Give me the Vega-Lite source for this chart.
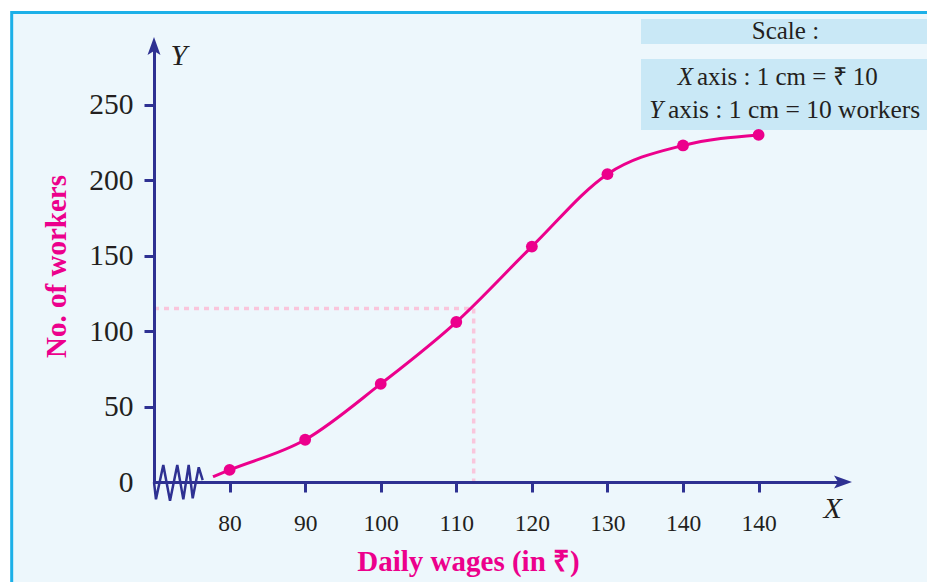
{
  "$schema": "https://vega.github.io/schema/vega-lite/v6.json",
  "width": 689,
  "height": 436,
  "autosize": {"type": "none"},
  "padding": {"left": 154, "top": 46, "right": 84, "bottom": 100},
  "background": "#ffffff",
  "config": {"view": {"stroke": null}, "text": {"font": "Liberation Serif", "color": "#231f20"}},
  "datasets": {
    "ogive": [
      {"wage": 77.8, "workers": 3.5, "plotted": false},
      {"wage": 80, "workers": 8, "plotted": true},
      {"wage": 90, "workers": 28, "plotted": true},
      {"wage": 100, "workers": 65, "plotted": true},
      {"wage": 110, "workers": 106, "plotted": true},
      {"wage": 120, "workers": 156, "plotted": true},
      {"wage": 130, "workers": 204, "plotted": true},
      {"wage": 140, "workers": 223, "plotted": true},
      {"wage": 150, "workers": 230, "plotted": true}
    ],
    "median": [{"median_wage": 112.3, "half_n": 115, "wage_start": 70, "workers_start": 0}],
    "kink": [
      {"kx": 70, "ky": 0},
      {"kx": 70.26, "ky": -11.5},
      {"kx": 71.23, "ky": 11.3},
      {"kx": 72.12, "ky": -12.4},
      {"kx": 73.08, "ky": 11.3},
      {"kx": 73.88, "ky": -11.5},
      {"kx": 74.59, "ky": 11.3},
      {"kx": 75.12, "ky": -10.8},
      {"kx": 75.92, "ky": 9.7},
      {"kx": 76.44, "ky": 1.3}
    ]
  },
  "layer": [
    {
      "data": {"values": [{}]},
      "mark": {"type": "rect", "fill": "#edf7fc", "stroke": "#1cb0e8", "strokeWidth": 3},
      "encoding": {
        "x": {"datum": 51.17, "type": "quantitative"},
        "x2": {"datum": 200},
        "y": {"datum": 311.1, "type": "quantitative"},
        "y2": {"datum": -150}
      }
    },
    {
      "data": {"values": [{}]},
      "mark": {"type": "rect", "fill": "#c9e8f6"},
      "encoding": {
        "x": {"datum": 134.44, "type": "quantitative"},
        "x2": {"datum": 175},
        "y": {"datum": 306.8, "type": "quantitative"},
        "y2": {"datum": 290.3}
      }
    },
    {
      "data": {"values": [{}]},
      "mark": {"type": "rect", "fill": "#c9e8f6"},
      "encoding": {
        "x": {"datum": 134.44, "type": "quantitative"},
        "x2": {"datum": 175},
        "y": {"datum": 280.3, "type": "quantitative"},
        "y2": {"datum": 233.3}
      }
    },
    {
      "data": {"values": [{"t": "Scale :"}]},
      "mark": {"type": "text", "fontSize": 25, "align": "center", "baseline": "middle"},
      "encoding": {
        "text": {"field": "t", "type": "nominal"},
        "x": {"datum": 153.55, "type": "quantitative"},
        "y": {"datum": 299.1, "type": "quantitative"}
      }
    },
    {
      "data": {"values": [{"t": "X"}]},
      "mark": {"type": "text", "fontSize": 25, "fontStyle": "italic", "align": "right", "baseline": "middle"},
      "encoding": {
        "text": {"field": "t", "type": "nominal"},
        "x": {"datum": 141.32, "type": "quantitative"},
        "y": {"datum": 268.2, "type": "quantitative"}
      }
    },
    {
      "data": {"values": [{"t": "axis : 1 cm =  ₹ 10"}]},
      "mark": {"type": "text", "fontSize": 25, "align": "left", "baseline": "middle"},
      "encoding": {
        "text": {"field": "t", "type": "nominal"},
        "x": {"datum": 141.85, "type": "quantitative"},
        "y": {"datum": 268.2, "type": "quantitative"}
      }
    },
    {
      "data": {"values": [{"t": "Y"}]},
      "mark": {"type": "text", "fontSize": 25, "fontStyle": "italic", "align": "right", "baseline": "middle"},
      "encoding": {
        "text": {"field": "t", "type": "nominal"},
        "x": {"datum": 137.36, "type": "quantitative"},
        "y": {"datum": 246.5, "type": "quantitative"}
      }
    },
    {
      "data": {"values": [{"t": "axis : 1 cm = 10 workers"}]},
      "mark": {"type": "text", "fontSize": 25.5, "align": "left", "baseline": "middle"},
      "encoding": {
        "text": {"field": "t", "type": "nominal"},
        "x": {"datum": 138.0, "type": "quantitative"},
        "y": {"datum": 246.5, "type": "quantitative"}
      }
    },
    {
      "data": {"values": [{"t": "Y"}]},
      "mark": {"type": "text", "fontSize": 30, "fontStyle": "italic", "align": "center", "baseline": "middle"},
      "encoding": {
        "text": {"field": "t", "type": "nominal"},
        "x": {"datum": 73.3, "type": "quantitative"},
        "y": {"datum": 282.3, "type": "quantitative"}
      }
    },
    {
      "data": {"values": [{"t": "X"}]},
      "mark": {"type": "text", "fontSize": 30, "fontStyle": "italic", "align": "center", "baseline": "middle"},
      "encoding": {
        "text": {"field": "t", "type": "nominal"},
        "x": {"datum": 159.8, "type": "quantitative"},
        "y": {"datum": -17.6, "type": "quantitative"}
      }
    },
    {
      "data": {"name": "median"},
      "mark": {"type": "rule", "color": "#f9c6dc", "strokeWidth": 3.5, "strokeDash": [5, 5]},
      "encoding": {
        "x": {"field": "wage_start", "type": "quantitative"},
        "x2": {"field": "median_wage"},
        "y": {"field": "half_n", "type": "quantitative"}
      }
    },
    {
      "data": {"name": "median"},
      "mark": {"type": "rule", "color": "#f9c6dc", "strokeWidth": 3.5, "strokeDash": [5, 5]},
      "encoding": {
        "x": {"field": "median_wage", "type": "quantitative"},
        "y": {"field": "half_n", "type": "quantitative"},
        "y2": {"field": "workers_start"}
      }
    },
    {
      "data": {"name": "ogive"},
      "mark": {"type": "line", "color": "#ec008c", "strokeWidth": 3, "interpolate": "monotone"},
      "encoding": {
        "x": {"field": "wage", "type": "quantitative"},
        "y": {"field": "workers", "type": "quantitative"}
      }
    },
    {
      "data": {"name": "kink"},
      "mark": {"type": "line", "color": "#2e3192", "strokeWidth": 2.5},
      "encoding": {
        "x": {"field": "kx", "type": "quantitative"},
        "y": {"field": "ky", "type": "quantitative"}
      }
    },
    {
      "data": {"name": "ogive"},
      "transform": [{"filter": "datum.plotted"}],
      "mark": {"type": "point", "filled": true, "size": 140, "color": "#ec008c", "opacity": 1},
      "encoding": {
        "x": {"field": "wage", "type": "quantitative"},
        "y": {"field": "workers", "type": "quantitative"}
      }
    },
    {
      "data": {"values": [{}]},
      "mark": {"type": "point", "filled": true, "opacity": 1, "color": "#2e3192", "size": 324, "shape": "M 1 0 L -1 -0.72 L -0.55 0 L -1 0.72 Z"},
      "encoding": {
        "x": {"datum": 161.17, "type": "quantitative"},
        "y": {"datum": 0, "type": "quantitative"}
      }
    },
    {
      "data": {"values": [{}]},
      "mark": {"type": "point", "filled": true, "opacity": 1, "color": "#2e3192", "size": 324, "shape": "M 0 -1 L -0.72 1 L 0 0.55 L 0.72 1 Z"},
      "encoding": {
        "x": {"datum": 70, "type": "quantitative"},
        "y": {"datum": 288.9, "type": "quantitative"}
      }
    }
  ],
  "encoding": {
    "x": {
      "type": "quantitative",
      "scale": {"domain": [70, 161.17], "nice": false, "zero": false},
      "title": "Daily wages (in ₹)",
      "axis": {
        "values": [80, 90, 100, 110, 120, 130, 140, 150],
        "labelExpr": "datum.value == 150 ? '140' : datum.label",
        "grid": false, "zindex": 1,
        "domainColor": "#2e3192", "domainWidth": 3,
        "tickColor": "#2e3192", "tickWidth": 3, "tickSize": 10,
        "labelFont": "Liberation Serif", "labelFontSize": 23.5, "labelColor": "#231f20", "labelPadding": 19,
        "titleFont": "Liberation Serif", "titleFontSize": 29, "titleFontWeight": "bold", "titleColor": "#ec008c",
        "titleX": 314, "titleY": 88, "titleAlign": "center", "titleBaseline": "alphabetic"
      }
    },
    "y": {
      "type": "quantitative",
      "scale": {"domain": [0, 288.9], "nice": false, "zero": false},
      "title": "No. of workers",
      "axis": {
        "values": [0, 50, 100, 150, 200, 250],
        "grid": false, "zindex": 1,
        "domainColor": "#2e3192", "domainWidth": 3,
        "tickColor": "#2e3192", "tickWidth": 3, "tickSize": 10,
        "tickOpacity": {"condition": {"test": "datum.value === 0", "value": 0}, "value": 1},
        "labelFont": "Liberation Serif", "labelFontSize": 29.5, "labelColor": "#231f20", "labelPadding": 11,
        "titleFont": "Liberation Serif", "titleFontSize": 29, "titleFontWeight": "bold", "titleColor": "#ec008c",
        "titleX": -89, "titleY": 220, "titleAngle": -90, "titleAlign": "center", "titleBaseline": "alphabetic"
      }
    }
  }
}
